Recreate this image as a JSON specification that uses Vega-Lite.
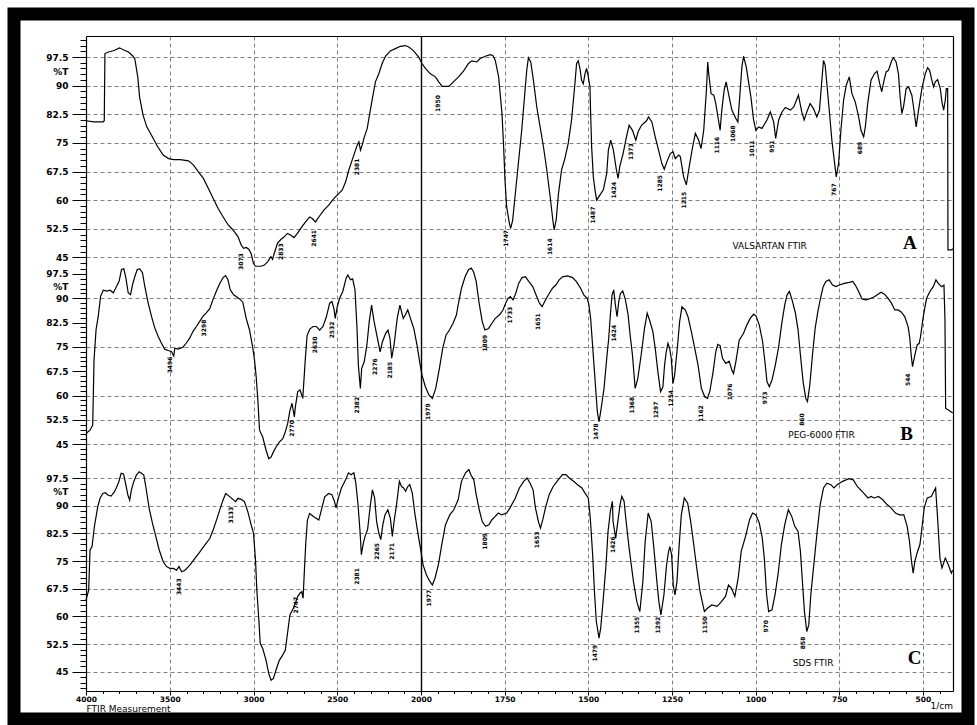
{
  "$schema": "https://vega.github.io/schema/vega-lite/v6.json",
  "width": 954,
  "height": 705,
  "autosize": {"type": "none"},
  "padding": {"left": 14, "top": 14, "right": 9, "bottom": 6},
  "background": "white",
  "view": {"fill": "white", "stroke": "black", "strokeWidth": 13},
  "config": {
    "axis": {
      "domainColor": "black",
      "domainWidth": 1.2,
      "tickColor": "black",
      "labelColor": "black",
      "labelFont": "DejaVu Sans",
      "labelFontWeight": "bold",
      "titleFont": "DejaVu Sans",
      "titleColor": "black",
      "gridColor": "#808080",
      "gridDash": [4, 3],
      "gridWidth": 1
    }
  },
  "datasets": {
    "valsartan": [
      {"w":4000,"t":80.8},{"w":3952,"t":80.5},{"w":3898,"t":80.5},{"w":3891,"t":80.8},{"w":3887,"t":98.4},{"w":3865,"t":98.8},{"w":3833,"t":99.2},{"w":3800,"t":99.9},{"w":3778,"t":99.4},{"w":3746,"t":98.8},{"w":3724,"t":97.9},{"w":3709,"t":97.1},{"w":3691,"t":92.3},{"w":3680,"t":87.0},{"w":3659,"t":82.2},{"w":3637,"t":79.2},{"w":3604,"t":76.6},{"w":3572,"t":74.0},{"w":3539,"t":71.8},{"w":3507,"t":70.9},{"w":3476,"t":70.6},{"w":3437,"t":70.6},{"w":3388,"t":70.3},{"w":3358,"t":69.2},{"w":3329,"t":67.4},{"w":3299,"t":65.7},{"w":3270,"t":63.1},{"w":3240,"t":60.4},{"w":3211,"t":57.8},{"w":3181,"t":55.6},{"w":3151,"t":53.5},{"w":3122,"t":52.2},{"w":3092,"t":50.4},{"w":3073,"t":48.2},{"w":3059,"t":47.4},{"w":3043,"t":47.6},{"w":3027,"t":47.1},{"w":3014,"t":46.0},{"w":3000,"t":43.4},{"w":2988,"t":42.7},{"w":2955,"t":42.7},{"w":2935,"t":43.0},{"w":2915,"t":43.9},{"w":2896,"t":45.2},{"w":2886,"t":44.5},{"w":2876,"t":46.1},{"w":2857,"t":48.7},{"w":2837,"t":49.7},{"w":2817,"t":50.4},{"w":2797,"t":51.3},{"w":2777,"t":50.8},{"w":2758,"t":50.2},{"w":2738,"t":51.3},{"w":2718,"t":52.6},{"w":2689,"t":54.3},{"w":2665,"t":55.6},{"w":2649,"t":55.2},{"w":2630,"t":54.3},{"w":2610,"t":55.6},{"w":2580,"t":57.4},{"w":2551,"t":58.7},{"w":2521,"t":60.4},
      {"w":2490,"t":61.8},{"w":2470,"t":62.7},{"w":2450,"t":64.8},{"w":2431,"t":67.9},{"w":2411,"t":70.5},{"w":2391,"t":73.1},{"w":2381,"t":74.4},{"w":2371,"t":75.3},{"w":2361,"t":73.1},{"w":2351,"t":74.4},{"w":2341,"t":76.2},{"w":2321,"t":78.8},{"w":2311,"t":81.4},{"w":2292,"t":86.2},{"w":2272,"t":91.0},{"w":2252,"t":93.1},{"w":2232,"t":95.8},{"w":2212,"t":97.7},{"w":2183,"t":99.1},{"w":2153,"t":99.7},{"w":2123,"t":100.3},{"w":2093,"t":100.5},{"w":2073,"t":100.1},{"w":2044,"t":99.1},{"w":2014,"t":97.5},{"w":1997,"t":95.8},{"w":1987,"t":94.5},{"w":1972,"t":93.1},{"w":1957,"t":92.3},{"w":1947,"t":91.0},{"w":1937,"t":89.8},{"w":1917,"t":89.8},{"w":1903,"t":91.0},{"w":1888,"t":92.3},{"w":1873,"t":93.8},{"w":1858,"t":95.8},{"w":1848,"t":96.5},{"w":1833,"t":96.2},{"w":1823,"t":97.1},{"w":1808,"t":97.7},{"w":1793,"t":98.1},{"w":1785,"t":97.9},{"w":1778,"t":96.6},{"w":1768,"t":92.3},{"w":1758,"t":82.7},{"w":1753,"t":74.0},{"w":1749,"t":65.3},{"w":1744,"t":58.3},{"w":1736,"t":54.0},{"w":1732,"t":52.6},{"w":1726,"t":54.8},{"w":1719,"t":60.9},{"w":1709,"t":69.6},{"w":1699,"t":78.3},{"w":1689,"t":88.8},{"w":1684,"t":94.0},{"w":1679,"t":97.3},{"w":1672,"t":96.2},{"w":1664,"t":91.4},{"w":1654,"t":84.4},{"w":1644,"t":79.2},{"w":1634,"t":74.0},{"w":1624,"t":67.9},{"w":1614,"t":60.9},{"w":1606,"t":54.8},{"w":1602,"t":52.2},{"w":1596,"t":54.8},{"w":1589,"t":61.8},{"w":1580,"t":67.9},{"w":1570,"t":70.9},{"w":1560,"t":74.9},{"w":1550,"t":81.0},{"w":1540,"t":90.5},{"w":1535,"t":95.8},{"w":1530,"t":96.5},{"w":1525,"t":94.5},{"w":1520,"t":91.4},{"w":1515,"t":90.5},{"w":1510,"t":93.1},{"w":1505,"t":94.5},{"w":1500,"t":92.3},{"w":1495,"t":89.7},{"w":1493,"t":82.7},{"w":1490,"t":74.0},{"w":1485,"t":66.1},{"w":1480,"t":62.7},{"w":1475,"t":60.0},{"w":1465,"t":61.4},{"w":1455,"t":62.7},{"w":1445,"t":67.0},{"w":1440,"t":73.1},{"w":1433,"t":75.7},{"w":1425,"t":73.1},{"w":1416,"t":67.9},{"w":1411,"t":65.7},{"w":1406,"t":68.8},{"w":1396,"t":72.2},{"w":1386,"t":76.6},{"w":1378,"t":79.6},{"w":1368,"t":78.3},{"w":1358,"t":75.7},{"w":1351,"t":77.9},{"w":1341,"t":79.6},{"w":1326,"t":80.8},
      {"w":1320,"t":81.8},{"w":1310,"t":80.5},{"w":1300,"t":76.6},{"w":1290,"t":73.1},{"w":1280,"t":69.6},{"w":1273,"t":68.1},{"w":1265,"t":70.1},{"w":1255,"t":72.2},{"w":1247,"t":72.7},{"w":1240,"t":70.9},{"w":1230,"t":71.8},{"w":1225,"t":71.4},{"w":1215,"t":66.1},{"w":1207,"t":64.0},{"w":1200,"t":67.9},{"w":1190,"t":73.1},{"w":1180,"t":77.5},{"w":1170,"t":75.7},{"w":1163,"t":73.5},{"w":1155,"t":78.3},{"w":1147,"t":88.8},{"w":1143,"t":96.2},{"w":1140,"t":93.1},{"w":1133,"t":87.9},{"w":1125,"t":87.5},{"w":1119,"t":85.3},{"w":1111,"t":81.0},{"w":1106,"t":78.3},{"w":1101,"t":83.6},{"w":1094,"t":88.8},{"w":1088,"t":91.0},{"w":1081,"t":87.9},{"w":1071,"t":83.6},{"w":1059,"t":81.4},{"w":1053,"t":80.5},{"w":1046,"t":88.8},{"w":1041,"t":94.9},{"w":1036,"t":97.7},{"w":1028,"t":94.9},{"w":1021,"t":91.0},{"w":1014,"t":87.0},{"w":1006,"t":81.0},{"w":999,"t":78.3},{"w":991,"t":79.2},{"w":981,"t":78.8},{"w":966,"t":81.0},{"w":956,"t":83.1},{"w":946,"t":80.5},{"w":940,"t":76.2},{"w":931,"t":81.0},{"w":921,"t":83.1},{"w":911,"t":84.3},{"w":896,"t":83.6},{"w":886,"t":84.4},{"w":872,"t":87.5},{"w":862,"t":83.1},{"w":855,"t":81.0},{"w":847,"t":83.1},{"w":837,"t":85.3},{"w":827,"t":84.0},{"w":817,"t":81.8},{"w":809,"t":83.6},{"w":802,"t":91.4},{"w":797,"t":96.6},{"w":792,"t":95.3},{"w":787,"t":90.5},{"w":779,"t":82.7},{"w":772,"t":75.7},{"w":765,"t":70.5},{"w":759,"t":66.1},{"w":752,"t":69.6},{"w":745,"t":78.3},{"w":737,"t":86.2},{"w":729,"t":90.1},{"w":720,"t":92.3},{"w":712,"t":87.9},{"w":702,"t":85.7},{"w":692,"t":81.8},{"w":685,"t":78.3},{"w":677,"t":76.6},{"w":672,"t":79.2},{"w":665,"t":85.3},{"w":655,"t":91.4},{"w":645,"t":93.1},{"w":637,"t":93.8},{"w":629,"t":90.5},{"w":623,"t":88.4},{"w":616,"t":91.4},{"w":610,"t":93.6},{"w":603,"t":94.0},{"w":593,"t":96.6},{"w":588,"t":97.3},{"w":580,"t":96.2},{"w":573,"t":93.1},{"w":568,"t":87.0},{"w":563,"t":82.7},{"w":558,"t":84.4},{"w":550,"t":89.2},{"w":543,"t":89.7},{"w":533,"t":87.5},{"w":528,"t":84.4},{"w":520,"t":79.2},{"w":513,"t":83.6},{"w":503,"t":89.2},{"w":493,"t":93.1},{"w":486,"t":94.7},{"w":480,"t":94.0},{"w":473,"t":91.4},{"w":468,"t":89.7},{"w":463,"t":91.0},{"w":456,"t":91.6},{"w":448,"t":89.2},{"w":443,"t":85.7},{"w":438,"t":83.6},{"w":433,"t":86.2},{"w":430,"t":89.2},{"w":426,"t":89.2},{"w":425,"t":47.0},{"w":413,"t":47.0},{"w":411,"t":47.3}
    ],
    "valsartanPeaks": [
      {"w":3073,"t":46.1},{"w":2833,"t":48.7},{"w":2641,"t":52.2},{"w":2381,"t":70.9},{"w":1950,"t":87.5},{"w":1747,"t":52.2},{"w":1614,"t":50.0},{"w":1487,"t":58.3},{"w":1424,"t":64.8},{"w":1373,"t":74.9},{"w":1285,"t":66.6},{"w":1215,"t":62.2},{"w":1116,"t":76.6},{"w":1068,"t":79.6},{"w":1011,"t":75.7},{"w":951,"t":75.7},{"w":767,"t":64.4},{"w":689,"t":75.3}
    ],
    "peg": [
      {"w":4000,"t":48.3},{"w":3976,"t":49.3},{"w":3960,"t":50.9},{"w":3952,"t":71.0},{"w":3940,"t":80.3},{"w":3927,"t":84.4},{"w":3913,"t":90.6},{"w":3897,"t":92.5},{"w":3877,"t":92.2},{"w":3857,"t":92.5},{"w":3837,"t":91.7},{"w":3817,"t":93.7},{"w":3802,"t":95.3},{"w":3788,"t":98.9},{"w":3774,"t":99.1},{"w":3762,"t":96.3},{"w":3748,"t":91.7},{"w":3734,"t":91.1},{"w":3722,"t":94.2},{"w":3708,"t":96.8},{"w":3694,"t":98.9},{"w":3679,"t":99.1},{"w":3663,"t":97.9},{"w":3649,"t":93.7},{"w":3629,"t":88.6},{"w":3609,"t":84.4},{"w":3589,"t":80.8},{"w":3569,"t":78.2},{"w":3550,"t":76.2},{"w":3530,"t":74.3},{"w":3510,"t":73.9},{"w":3490,"t":73.6},{"w":3476,"t":72.2},{"w":3470,"t":74.6},{"w":3450,"t":74.3},{"w":3421,"t":74.9},{"w":3401,"t":76.2},{"w":3381,"t":77.7},{"w":3361,"t":79.8},{"w":3341,"t":81.3},{"w":3321,"t":82.9},{"w":3302,"t":84.4},{"w":3282,"t":85.5},{"w":3262,"t":86.7},{"w":3242,"t":89.6},{"w":3222,"t":92.2},{"w":3202,"t":94.5},{"w":3183,"t":96.3},{"w":3167,"t":97.0},{"w":3153,"t":95.8},{"w":3139,"t":92.7},{"w":3119,"t":91.1},{"w":3099,"t":90.4},{"w":3083,"t":89.8},{"w":3064,"t":88.8},{"w":3044,"t":83.9},{"w":3024,"t":80.3},{"w":3004,"t":74.6},{"w":2994,"t":71.0},{"w":2984,"t":65.8},{"w":2974,"t":58.6},{"w":2964,"t":49.3},{"w":2945,"t":47.2},{"w":2925,"t":43.1},{"w":2909,"t":40.5},{"w":2895,"t":41.0},{"w":2881,"t":42.6},{"w":2865,"t":44.1},{"w":2845,"t":45.7},{"w":2825,"t":46.7},{"w":2810,"t":48.8},{"w":2796,"t":51.4},{"w":2782,"t":55.5},{"w":2770,"t":57.6},{"w":2756,"t":53.4},{"w":2750,"t":56.5},{"w":2736,"t":61.2},{"w":2722,"t":61.7},{"w":2706,"t":59.1},{"w":2702,"t":62.2},{"w":2691,"t":71.0},{"w":2680,"t":78.5},{"w":2664,"t":80.5},{"w":2644,"t":81.3},{"w":2624,"t":81.3},{"w":2605,"t":80.2},{"w":2585,"t":81.3},{"w":2565,"t":84.3},{"w":2545,"t":88.5},{"w":2532,"t":89.0},{"w":2520,"t":86.9},{"w":2512,"t":83.8},{"w":2500,"t":87.4},{"w":2486,"t":90.0},{"w":2467,"t":92.1},{"w":2447,"t":96.2},{"w":2437,"t":97.2},{"w":2421,"t":95.7},{"w":2408,"t":96.0},{"w":2394,"t":92.6},{"w":2382,"t":80.7},{"w":2374,"t":69.4},{"w":2362,"t":62.2},{"w":2354,"t":68.4},{"w":2339,"t":70.4},{"w":2323,"t":75.6},{"w":2309,"t":82.8},{"w":2295,"t":87.9},{"w":2280,"t":82.8},{"w":2260,"t":77.6},{"w":2244,"t":73.5},{"w":2230,"t":76.6},{"w":2211,"t":79.2},{"w":2197,"t":80.2},{"w":2185,"t":77.6},{"w":2175,"t":71.5},{"w":2161,"t":75.6},{"w":2142,"t":83.8},{"w":2126,"t":87.9},{"w":2106,"t":83.8},{"w":2093,"t":84.9},{"w":2079,"t":86.4},{"w":2063,"t":83.8},{"w":2043,"t":80.7},{"w":2024,"t":75.6},{"w":2008,"t":70.4},{"w":1997,"t":66.3},{"w":1987,"t":62.7},{"w":1976,"t":60.1},{"w":1966,"t":59.1},{"w":1956,"t":62.2},{"w":1945,"t":68.4},{"w":1935,"t":74.6},{"w":1925,"t":78.7},{"w":1915,"t":80.2},{"w":1904,"t":82.3},{"w":1894,"t":84.9},{"w":1889,"t":87.9},{"w":1879,"t":93.1},{"w":1868,"t":96.7},{"w":1858,"t":98.8},{"w":1850,"t":99.3},{"w":1843,"t":98.2},{"w":1835,"t":95.2},{"w":1827,"t":89.0},{"w":1817,"t":82.8},{"w":1809,"t":80.2},{"w":1798,"t":80.7},{"w":1788,"t":82.3},{"w":1778,"t":83.8},{"w":1765,"t":84.9},{"w":1755,"t":86.4},{"w":1747,"t":88.5},{"w":1740,"t":90.0},{"w":1733,"t":90.5},{"w":1725,"t":89.5},{"w":1717,"t":91.5},{"w":1708,"t":94.6},{"w":1698,"t":96.4},{"w":1688,"t":96.7},{"w":1678,"t":95.2},{"w":1666,"t":93.6},{"w":1656,"t":91.0},{"w":1646,"t":88.5},{"w":1638,"t":87.4},{"w":1628,"t":89.5},{"w":1617,"t":91.5},{"w":1607,"t":93.1},{"w":1597,"t":94.1},{"w":1587,"t":95.7},{"w":1577,"t":96.6},{"w":1562,"t":96.9},{"w":1547,"t":96.4},{"w":1536,"t":95.2},{"w":1523,"t":93.1},{"w":1513,"t":91.0},{"w":1503,"t":90.0},{"w":1498,"t":87.9},{"w":1493,"t":83.8},{"w":1488,"t":76.6},{"w":1483,"t":69.4},{"w":1478,"t":62.2},{"w":1473,"t":55.0},{"w":1468,"t":51.9},{"w":1463,"t":55.0},{"w":1453,"t":62.2},{"w":1444,"t":72.5},{"w":1439,"t":77.6},{"w":1434,"t":84.9},{"w":1429,"t":91.0},{"w":1424,"t":92.6},{"w":1419,"t":87.9},{"w":1414,"t":84.3},{"w":1409,"t":89.0},{"w":1404,"t":91.5},{"w":1397,"t":92.3},{"w":1389,"t":89.5},{"w":1381,"t":84.9},{"w":1375,"t":78.7},{"w":1368,"t":72.5},{"w":1360,"t":62.2},
      {"w":1352,"t":65.3},{"w":1342,"t":72.5},{"w":1332,"t":80.7},{"w":1324,"t":85.4},{"w":1317,"t":83.3},{"w":1307,"t":79.7},{"w":1300,"t":74.6},{"w":1292,"t":67.3},{"w":1284,"t":61.2},{"w":1277,"t":62.7},{"w":1272,"t":69.4},{"w":1267,"t":73.5},{"w":1262,"t":76.1},{"w":1257,"t":74.6},{"w":1252,"t":71.5},{"w":1247,"t":63.7},{"w":1242,"t":66.3},{"w":1234,"t":74.6},{"w":1227,"t":82.8},{"w":1220,"t":87.4},{"w":1210,"t":86.4},{"w":1202,"t":84.3},{"w":1192,"t":79.7},{"w":1182,"t":74.6},{"w":1172,"t":69.4},{"w":1162,"t":62.2},{"w":1152,"t":59.6},{"w":1144,"t":59.1},{"w":1137,"t":61.2},{"w":1127,"t":67.3},{"w":1119,"t":73.5},{"w":1113,"t":75.8},{"w":1106,"t":75.4},{"w":1099,"t":71.5},{"w":1089,"t":69.9},{"w":1079,"t":70.6},{"w":1071,"t":67.9},{"w":1066,"t":66.8},{"w":1059,"t":70.4},{"w":1049,"t":77.1},{"w":1036,"t":79.2},{"w":1026,"t":81.8},{"w":1016,"t":83.8},{"w":1006,"t":85.1},{"w":999,"t":84.6},{"w":989,"t":81.8},{"w":979,"t":76.6},{"w":971,"t":69.4},{"w":966,"t":64.3},{"w":959,"t":62.7},{"w":951,"t":64.8},{"w":941,"t":69.4},{"w":931,"t":75.1},{"w":921,"t":82.8},{"w":913,"t":87.9},{"w":906,"t":91.0},{"w":899,"t":92.1},{"w":891,"t":89.5},{"w":881,"t":85.4},{"w":873,"t":80.2},{"w":866,"t":72.5},{"w":858,"t":64.3},{"w":850,"t":59.1},{"w":845,"t":58.1},{"w":838,"t":63.2},{"w":830,"t":72.5},{"w":822,"t":80.7},{"w":814,"t":85.9},{"w":805,"t":90.5},{"w":798,"t":93.6},{"w":790,"t":95.2},{"w":780,"t":95.7},{"w":770,"t":94.1},{"w":760,"t":93.6},{"w":750,"t":94.1},{"w":735,"t":94.6},{"w":720,"t":94.9},{"w":710,"t":95.2},{"w":702,"t":94.1},{"w":692,"t":92.1},{"w":682,"t":89.8},{"w":670,"t":89.5},{"w":655,"t":90.0},{"w":645,"t":90.5},{"w":635,"t":91.2},{"w":625,"t":91.9},{"w":614,"t":91.2},{"w":604,"t":90.0},{"w":594,"t":88.5},{"w":584,"t":86.4},{"w":574,"t":86.4},{"w":564,"t":85.7},{"w":554,"t":84.3},{"w":544,"t":81.2},{"w":539,"t":77.6},{"w":535,"t":72.5},{"w":531,"t":68.9},{"w":524,"t":72.5},{"w":517,"t":75.6},{"w":511,"t":76.1},{"w":507,"t":78.2},{"w":499,"t":84.3},{"w":489,"t":90.0},{"w":479,"t":92.1},{"w":469,"t":93.6},{"w":461,"t":95.7},{"w":454,"t":94.6},{"w":444,"t":93.6},{"w":437,"t":94.1},{"w":434,"t":83.3},{"w":432,"t":56.0},{"w":424,"t":55.5},{"w":414,"t":54.8},{"w":411,"t":54.6}
    ],
    "pegPeaks": [
      {"w":3496,"t":72.0},{"w":3298,"t":83.4},{"w":2770,"t":52.4},{"w":2630,"t":78.2},{"w":2532,"t":82.8},{"w":2382,"t":59.6},{"w":2276,"t":71.5},{"w":2185,"t":70.4},{"w":1979,"t":57.6},{"w":1809,"t":78.7},{"w":1733,"t":87.4},{"w":1651,"t":85.4},{"w":1478,"t":51.4},{"w":1424,"t":81.8},{"w":1368,"t":59.6},{"w":1297,"t":58.1},{"w":1254,"t":61.7},{"w":1162,"t":57.0},{"w":1076,"t":63.7},{"w":973,"t":61.2},{"w":860,"t":54.5},{"w":544,"t":66.8}
    ],
    "sds": [
      {"w":4000,"t":64.4},{"w":3984,"t":67.1},{"w":3976,"t":78.0},{"w":3964,"t":78.9},{"w":3950,"t":84.3},{"w":3930,"t":89.7},{"w":3916,"t":92.0},{"w":3900,"t":93.3},{"w":3884,"t":93.5},{"w":3870,"t":92.9},{"w":3850,"t":92.6},{"w":3830,"t":93.8},{"w":3816,"t":95.1},{"w":3804,"t":96.5},{"w":3790,"t":98.8},{"w":3776,"t":98.6},{"w":3764,"t":96.1},{"w":3750,"t":92.9},{"w":3739,"t":91.5},{"w":3729,"t":94.2},{"w":3715,"t":96.5},{"w":3699,"t":98.3},{"w":3683,"t":99.2},{"w":3669,"t":98.8},{"w":3655,"t":98.3},{"w":3643,"t":95.2},{"w":3623,"t":89.3},{"w":3603,"t":85.2},{"w":3583,"t":81.6},{"w":3563,"t":78.0},{"w":3539,"t":74.8},{"w":3519,"t":73.5},{"w":3498,"t":73.0},{"w":3478,"t":73.0},{"w":3459,"t":72.5},{"w":3445,"t":73.5},{"w":3429,"t":72.1},{"w":3409,"t":72.5},{"w":3380,"t":73.9},{"w":3350,"t":75.7},{"w":3320,"t":77.5},{"w":3291,"t":79.3},{"w":3261,"t":81.1},{"w":3241,"t":83.4},{"w":3221,"t":86.1},{"w":3202,"t":88.8},{"w":3182,"t":91.5},{"w":3166,"t":93.3},{"w":3146,"t":92.6},{"w":3123,"t":91.7},{"w":3107,"t":91.1},{"w":3093,"t":92.0},{"w":3073,"t":91.7},{"w":3054,"t":91.1},{"w":3034,"t":88.4},{"w":3014,"t":84.8},{"w":3000,"t":82.5},{"w":2988,"t":75.3},{"w":2980,"t":67.1},{"w":2968,"t":59.0},{"w":2960,"t":52.7},{"w":2945,"t":51.3},{"w":2925,"t":48.1},{"w":2909,"t":44.5},{"w":2895,"t":42.7},{"w":2881,"t":43.2},{"w":2866,"t":45.4},{"w":2846,"t":48.1},{"w":2826,"t":49.5},{"w":2810,"t":50.9},{"w":2797,"t":55.4},{"w":2783,"t":60.3},{"w":2767,"t":61.7},{"w":2751,"t":63.5},{"w":2737,"t":65.3},{"w":2724,"t":66.2},{"w":2712,"t":66.7},{"w":2704,"t":64.9},{"w":2698,"t":70.7},{"w":2688,"t":79.8},{"w":2678,"t":86.1},{"w":2665,"t":87.9},{"w":2640,"t":87.0},{"w":2610,"t":86.1},{"w":2590,"t":89.7},{"w":2575,"t":92.4},{"w":2551,"t":93.3},
      {"w":2532,"t":93.0},{"w":2517,"t":91.2},{"w":2507,"t":89.4},{"w":2493,"t":92.1},{"w":2475,"t":94.8},{"w":2450,"t":97.0},{"w":2433,"t":98.9},{"w":2418,"t":98.4},{"w":2401,"t":98.9},{"w":2389,"t":96.1},{"w":2376,"t":90.3},{"w":2364,"t":83.0},{"w":2356,"t":76.7},{"w":2344,"t":79.9},{"w":2334,"t":81.7},{"w":2319,"t":83.5},{"w":2302,"t":90.3},{"w":2290,"t":94.3},{"w":2277,"t":92.1},{"w":2265,"t":85.7},{"w":2252,"t":82.6},{"w":2240,"t":80.8},{"w":2228,"t":84.8},{"w":2215,"t":87.5},{"w":2198,"t":88.9},{"w":2183,"t":86.6},{"w":2171,"t":81.7},{"w":2161,"t":85.7},{"w":2146,"t":90.3},{"w":2129,"t":96.6},{"w":2116,"t":95.2},{"w":2104,"t":94.8},{"w":2092,"t":93.9},{"w":2079,"t":95.2},{"w":2067,"t":95.7},{"w":2052,"t":93.4},{"w":2037,"t":88.0},{"w":2017,"t":82.1},{"w":2000,"t":77.6},{"w":1994,"t":74.0},{"w":1984,"t":71.3},{"w":1973,"t":69.4},{"w":1966,"t":68.5},{"w":1958,"t":70.4},{"w":1948,"t":74.0},{"w":1938,"t":79.4},{"w":1927,"t":84.8},{"w":1914,"t":87.5},{"w":1902,"t":88.9},{"w":1889,"t":91.6},{"w":1879,"t":96.6},{"w":1867,"t":98.9},{"w":1857,"t":99.8},{"w":1851,"t":98.4},{"w":1842,"t":97.0},{"w":1835,"t":93.0},{"w":1826,"t":88.9},{"w":1817,"t":85.7},{"w":1807,"t":84.4},{"w":1797,"t":84.8},{"w":1788,"t":86.2},{"w":1778,"t":87.1},{"w":1769,"t":88.0},{"w":1759,"t":87.5},{"w":1744,"t":88.0},{"w":1734,"t":89.4},{"w":1718,"t":92.1},{"w":1706,"t":94.8},{"w":1693,"t":96.6},{"w":1683,"t":97.5},{"w":1674,"t":96.1},{"w":1665,"t":94.3},{"w":1658,"t":89.4},{"w":1649,"t":85.7},{"w":1643,"t":83.9},{"w":1636,"t":86.2},{"w":1628,"t":89.4},{"w":1617,"t":93.0},{"w":1605,"t":95.2},{"w":1590,"t":97.0},{"w":1577,"t":98.4},{"w":1567,"t":98.4},{"w":1557,"t":97.5},{"w":1544,"t":96.6},{"w":1532,"t":95.7},{"w":1519,"t":94.8},{"w":1510,"t":93.4},{"w":1500,"t":92.1},{"w":1494,"t":86.6},{"w":1487,"t":76.7},{"w":1481,"t":65.8},{"w":1476,"t":58.6},{"w":1468,"t":54.1},{"w":1463,"t":56.8},{"w":1456,"t":64.0},{"w":1447,"t":74.0},{"w":1441,"t":83.0},{"w":1434,"t":88.5},{"w":1428,"t":91.2},{"w":1426,"t":85.7},{"w":1418,"t":81.2},{"w":1413,"t":84.8},{"w":1405,"t":90.3},{"w":1400,"t":92.5},{"w":1393,"t":91.2},{"w":1388,"t":86.6},{"w":1378,"t":78.5},{"w":1365,"t":69.4},{"w":1355,"t":64.0},{"w":1346,"t":61.3},{"w":1337,"t":69.4},{"w":1330,"t":80.3},{"w":1321,"t":88.0},{"w":1312,"t":85.7},{"w":1304,"t":78.5},{"w":1295,"t":69.4},{"w":1289,"t":64.0},{"w":1283,"t":60.4},{"w":1274,"t":65.8},{"w":1266,"t":74.0},{"w":1260,"t":77.6},{"w":1256,"t":78.9},{"w":1251,"t":76.7},{"w":1246,"t":68.5},{"w":1241,"t":65.8},{"w":1235,"t":69.4},{"w":1229,"t":78.5},{"w":1222,"t":87.5},{"w":1213,"t":92.1},{"w":1203,"t":90.7},{"w":1194,"t":85.7},{"w":1186,"t":80.3},{"w":1176,"t":73.1},{"w":1166,"t":66.7},{"w":1153,"t":61.3},{"w":1144,"t":62.2},{"w":1131,"t":63.1},{"w":1115,"t":62.7},{"w":1102,"t":64.0},{"w":1090,"t":65.4},{"w":1081,"t":68.5},{"w":1072,"t":67.6},{"w":1062,"t":65.4},{"w":1052,"t":70.4},{"w":1043,"t":77.6},{"w":1030,"t":81.7},{"w":1018,"t":86.2},{"w":1009,"t":88.0},{"w":999,"t":87.5},{"w":989,"t":85.3},{"w":980,"t":81.2},{"w":974,"t":75.8},{"w":967,"t":65.8},{"w":961,"t":61.3},{"w":951,"t":61.8},{"w":942,"t":65.8},{"w":933,"t":71.3},{"w":923,"t":79.4},{"w":913,"t":84.8},{"w":902,"t":88.9},{"w":892,"t":87.1},{"w":883,"t":84.4},{"w":873,"t":83.0},{"w":866,"t":77.6},{"w":860,"t":69.4},{"w":854,"t":61.3},{"w":847,"t":55.9},{"w":841,"t":57.7},{"w":835,"t":65.8},{"w":825,"t":74.9},{"w":816,"t":83.0},{"w":807,"t":90.3},{"w":797,"t":94.8},{"w":787,"t":96.1},{"w":775,"t":95.7},{"w":766,"t":94.8},{"w":756,"t":95.7},{"w":740,"t":96.6},{"w":721,"t":97.3},{"w":708,"t":97.0},{"w":696,"t":95.2},{"w":677,"t":93.4},{"w":664,"t":92.1},{"w":655,"t":92.5},{"w":645,"t":92.1},{"w":633,"t":92.5},{"w":620,"t":91.6},{"w":607,"t":90.3},{"w":595,"t":89.4},{"w":582,"t":88.0},{"w":570,"t":87.5},{"w":557,"t":87.5},{"w":547,"t":84.4},{"w":540,"t":80.3},{"w":534,"t":74.9},{"w":529,"t":71.7},{"w":524,"t":74.9},{"w":516,"t":77.6},{"w":509,"t":79.4},{"w":504,"t":83.0},{"w":496,"t":89.4},{"w":487,"t":92.1},{"w":475,"t":92.5},{"w":462,"t":94.8},{"w":456,"t":86.6},{"w":449,"t":75.8},{"w":443,"t":73.1},{"w":433,"t":75.8},{"w":424,"t":74.0},{"w":415,"t":71.7},{"w":411,"t":72.5}
    ],
    "sdsPeaks": [
      {"w":3443,"t":70.3},{"w":3133,"t":89.7},{"w":2747,"t":65.3},{"w":2381,"t":73.1},{"w":2265,"t":79.9},{"w":2171,"t":79.9},{"w":1977,"t":67.2},{"w":1809,"t":82.6},{"w":1653,"t":83.0},{"w":1479,"t":52.3},{"w":1426,"t":81.7},{"w":1355,"t":59.9},{"w":1292,"t":59.9},{"w":1150,"t":59.9},{"w":970,"t":59.0},{"w":858,"t":54.5}
    ]
  },
  "layer": [
    {
      "layer": [
        {
          "data": {"name": "valsartan"},
          "mark": {"type": "line", "color": "black", "strokeWidth": 1.2},
          "encoding": {
            "x": {"field": "w", "type": "quantitative", "scale": {"domain": [4000, 2000, 410], "range": [72, 407, 939], "nice": false, "zero": false}, "axis": null},
            "y": {"field": "t", "type": "quantitative", "scale": {"domain": [42.5, 103], "range": [253, 22], "nice": false, "zero": false},
              "axis": {"orient": "left", "offset": -72, "title": null, "values": [45, 52.5, 60, 67.5, 75, 82.5, 90, 93.75, 97.5],
                "labelExpr": "datum.value == 93.75 ? '%T' : format(datum.value, '.1~f')",
                "labelFontSize": 9, "labelPadding": 4, "labelOverlap": false,
                "tickSize": 14, "tickOpacity": {"condition": {"test": "datum.value == 93.75", "value": 0}, "value": 1},
                "grid": true, "gridOpacity": {"condition": {"test": "datum.value == 93.75", "value": 0}, "value": 1}}}
          }
        },
        {
          "data": {"name": "valsartanPeaks"},
          "mark": {"type": "text", "angle": 270, "align": "right", "baseline": "middle", "font": "DejaVu Sans", "fontSize": 6, "fontWeight": "bold", "color": "black"},
          "encoding": {
            "x": {"field": "w", "type": "quantitative", "scale": {"domain": [4000, 2000, 410], "range": [72, 407, 939], "nice": false, "zero": false}, "axis": null},
            "y": {"field": "t", "type": "quantitative", "scale": {"domain": [42.5, 103], "range": [253, 22], "nice": false, "zero": false},
              "axis": {"orient": "left", "offset": -72, "title": null, "labels": false, "domain": false, "grid": false, "tickSize": 6,
                "values": [43.5,45,46.5,48,49.5,51,52.5,54,55.5,57,58.5,60,61.5,63,64.5,66,67.5,69,70.5,72,73.5,75,76.5,78,79.5,81,82.5,84,85.5,87,88.5,90,91.5,93,94.5,96,97.5,99,100.5,102]}},
            "text": {"field": "w", "type": "quantitative", "format": "d"}
          }
        },
        {
          "data": {"values": [{}]},
          "mark": {"type": "text", "align": "center", "baseline": "middle", "font": "DejaVu Sans", "fontSize": 9, "color": "black"},
          "encoding": {
            "x": {"datum": 958, "type": "quantitative", "scale": {"domain": [4000, 2000, 410], "range": [72, 407, 939], "nice": false, "zero": false}, "axis": null},
            "y": {"datum": 48.1, "type": "quantitative", "scale": {"domain": [42.5, 103], "range": [253, 22], "nice": false, "zero": false}, "axis": null},
            "text": {"value": "VALSARTAN FTIR"}
          }
        },
        {
          "data": {"values": [{}]},
          "mark": {"type": "text", "align": "center", "baseline": "middle", "font": "Liberation Serif", "fontSize": 19, "fontWeight": "bold", "color": "black"},
          "encoding": {
            "x": {"datum": 539, "type": "quantitative", "scale": {"domain": [4000, 2000, 410], "range": [72, 407, 939], "nice": false, "zero": false}, "axis": null},
            "y": {"datum": 48.9, "type": "quantitative", "scale": {"domain": [42.5, 103], "range": [253, 22], "nice": false, "zero": false}, "axis": null},
            "text": {"value": "A"}
          }
        }
      ],
      "resolve": {"axis": {"y": "independent"}}
    },
    {
      "layer": [
        {
          "data": {"name": "peg"},
          "mark": {"type": "line", "color": "black", "strokeWidth": 1.2},
          "encoding": {
            "x": {"field": "w", "type": "quantitative", "scale": {"domain": [4000, 2000, 410], "range": [72, 407, 939], "nice": false, "zero": false}, "axis": null},
            "y": {"field": "t", "type": "quantitative", "scale": {"domain": [39.48, 99.66], "range": [448, 253], "nice": false, "zero": false},
              "axis": {"orient": "left", "offset": -72, "title": null, "values": [45, 52.5, 60, 67.5, 75, 82.5, 90, 93.75, 97.5],
                "labelExpr": "datum.value == 93.75 ? '%T' : format(datum.value, '.1~f')",
                "labelFontSize": 9, "labelPadding": 4, "labelOverlap": false,
                "tickSize": 14, "tickOpacity": {"condition": {"test": "datum.value == 93.75", "value": 0}, "value": 1},
                "grid": true, "gridOpacity": {"condition": {"test": "indexof([97.5, 93.75, 82.5, 67.5], datum.value) >= 0", "value": 0}, "value": 1}}}
          }
        },
        {
          "data": {"name": "pegPeaks"},
          "mark": {"type": "text", "angle": 270, "align": "right", "baseline": "middle", "font": "DejaVu Sans", "fontSize": 6, "fontWeight": "bold", "color": "black"},
          "encoding": {
            "x": {"field": "w", "type": "quantitative", "scale": {"domain": [4000, 2000, 410], "range": [72, 407, 939], "nice": false, "zero": false}, "axis": null},
            "y": {"field": "t", "type": "quantitative", "scale": {"domain": [39.48, 99.66], "range": [448, 253], "nice": false, "zero": false},
              "axis": {"orient": "left", "offset": -72, "title": null, "labels": false, "domain": false, "grid": false, "tickSize": 6,
                "values": [40.5,42,43.5,45,46.5,48,49.5,51,52.5,54,55.5,57,58.5,60,61.5,63,64.5,66,67.5,69,70.5,72,73.5,75,76.5,78,79.5,81,82.5,84,85.5,87,88.5,90,91.5,93,94.5,96,97.5,99]}},
            "text": {"field": "w", "type": "quantitative", "format": "d"}
          }
        },
        {
          "data": {"values": [{}]},
          "mark": {"type": "text", "align": "center", "baseline": "middle", "font": "DejaVu Sans", "fontSize": 9, "color": "black"},
          "encoding": {
            "x": {"datum": 803, "type": "quantitative", "scale": {"domain": [4000, 2000, 410], "range": [72, 407, 939], "nice": false, "zero": false}, "axis": null},
            "y": {"datum": 47.8, "type": "quantitative", "scale": {"domain": [39.48, 99.66], "range": [448, 253], "nice": false, "zero": false}, "axis": null},
            "text": {"value": "PEG-6000 FTIR"}
          }
        },
        {
          "data": {"values": [{}]},
          "mark": {"type": "text", "align": "center", "baseline": "middle", "font": "Liberation Serif", "fontSize": 19, "fontWeight": "bold", "color": "black"},
          "encoding": {
            "x": {"datum": 549, "type": "quantitative", "scale": {"domain": [4000, 2000, 410], "range": [72, 407, 939], "nice": false, "zero": false}, "axis": null},
            "y": {"datum": 48.1, "type": "quantitative", "scale": {"domain": [39.48, 99.66], "range": [448, 253], "nice": false, "zero": false}, "axis": null},
            "text": {"value": "B"}
          }
        }
      ],
      "resolve": {"axis": {"y": "independent"}}
    },
    {
      "layer": [
        {
          "data": {"name": "sds"},
          "mark": {"type": "line", "color": "black", "strokeWidth": 1.2},
          "encoding": {
            "x": {"field": "w", "type": "quantitative", "scale": {"domain": [4000, 2000, 410], "range": [72, 407, 939], "nice": false, "zero": false},
              "axis": {"orient": "bottom", "offset": -28, "values": [4000, 3500, 3000, 2500, 2000, 1750, 1500, 1250, 1000, 750, 500], "format": "d",
                "labelFlush": false, "labelOverlap": false, "labelFontSize": 7.5, "labelPadding": 0, "tickSize": 4, "grid": false,
                "title": "FTIR Measurement", "titleAnchor": "start", "titleAlign": "left", "titleBaseline": "middle", "titleY": 17, "titleFontSize": 9, "titleFontWeight": "normal"}},
            "y": {"field": "t", "type": "quantitative", "scale": {"domain": [39.78, 101.84], "range": [677, 448], "nice": false, "zero": false},
              "axis": {"orient": "left", "offset": -72, "title": null, "values": [45, 52.5, 60, 67.5, 75, 82.5, 90, 93.75, 97.5],
                "labelExpr": "datum.value == 93.75 ? '%T' : format(datum.value, '.1~f')",
                "labelFontSize": 9, "labelPadding": 4, "labelOverlap": false,
                "tickSize": 14, "tickOpacity": {"condition": {"test": "datum.value == 93.75", "value": 0}, "value": 1},
                "grid": true, "gridOpacity": {"condition": {"test": "datum.value == 93.75", "value": 0}, "value": 1}}}
          }
        },
        {
          "data": {"name": "sdsPeaks"},
          "mark": {"type": "text", "angle": 270, "align": "right", "baseline": "middle", "font": "DejaVu Sans", "fontSize": 6, "fontWeight": "bold", "color": "black"},
          "encoding": {
            "x": {"field": "w", "type": "quantitative", "scale": {"domain": [4000, 2000, 410], "range": [72, 407, 939], "nice": false, "zero": false},
              "axis": {"orient": "bottom", "offset": -28, "title": null, "labels": false, "domain": false, "grid": false, "tickSize": 2.5,
                "values": [3900,3800,3700,3600,3400,3300,3200,3100,2900,2800,2700,2600,2400,2300,2200,2100,1950,1900,1850,1800,1700,1650,1600,1550,1450,1400,1350,1300,1200,1150,1100,1050,950,900,850,800,700,650,600,550,450]}},
            "y": {"field": "t", "type": "quantitative", "scale": {"domain": [39.78, 101.84], "range": [677, 448], "nice": false, "zero": false},
              "axis": {"orient": "left", "offset": -72, "title": null, "labels": false, "domain": false, "grid": false, "tickSize": 6,
                "values": [40.5,42,43.5,45,46.5,48,49.5,51,52.5,54,55.5,57,58.5,60,61.5,63,64.5,66,67.5,69,70.5,72,73.5,75,76.5,78,79.5,81,82.5,84,85.5,87,88.5,90,91.5,93,94.5,96,97.5,99,100.5]}},
            "text": {"field": "w", "type": "quantitative", "format": "d"}
          }
        },
        {
          "data": {"values": [{}]},
          "mark": {"type": "text", "align": "center", "baseline": "middle", "font": "DejaVu Sans", "fontSize": 9, "color": "black"},
          "encoding": {
            "x": {"datum": 828, "type": "quantitative", "scale": {"domain": [4000, 2000, 410], "range": [72, 407, 939], "nice": false, "zero": false}, "axis": null},
            "y": {"datum": 47.3, "type": "quantitative", "scale": {"domain": [39.78, 101.84], "range": [677, 448], "nice": false, "zero": false}, "axis": null},
            "text": {"value": "SDS FTIR"}
          }
        },
        {
          "data": {"values": [{}]},
          "mark": {"type": "text", "align": "center", "baseline": "middle", "font": "Liberation Serif", "fontSize": 19, "fontWeight": "bold", "color": "black"},
          "encoding": {
            "x": {"datum": 525, "type": "quantitative", "scale": {"domain": [4000, 2000, 410], "range": [72, 407, 939], "nice": false, "zero": false}, "axis": null},
            "y": {"datum": 48.6, "type": "quantitative", "scale": {"domain": [39.78, 101.84], "range": [677, 448], "nice": false, "zero": false}, "axis": null},
            "text": {"value": "C"}
          }
        },
        {
          "data": {"values": [{}]},
          "mark": {"type": "text", "align": "right", "baseline": "middle", "font": "DejaVu Sans", "fontSize": 9, "color": "black", "dy": 15},
          "encoding": {
            "x": {"datum": 410, "type": "quantitative", "scale": {"domain": [4000, 2000, 410], "range": [72, 407, 939], "nice": false, "zero": false}, "axis": null},
            "y": {"datum": 39.78, "type": "quantitative", "scale": {"domain": [39.78, 101.84], "range": [677, 448], "nice": false, "zero": false}, "axis": null},
            "text": {"value": "1/cm"}
          }
        }
      ],
      "resolve": {"axis": {"x": "independent", "y": "independent"}}
    },
    {
      "data": {"values": [{}]},
      "mark": {"type": "point", "opacity": 0},
      "encoding": {
        "x": {"datum": 2000, "type": "quantitative", "scale": {"domain": [4000, 2000, 410], "range": [72, 407, 939], "nice": false, "zero": false},
          "axis": {"orient": "top", "offset": -22, "title": null, "labels": false, "ticks": false, "domain": true,
            "values": [3500, 3000, 2500, 2000, 1750, 1500, 1250, 1000, 750, 500],
            "grid": true,
            "gridColor": {"condition": {"test": "datum.value == 2000", "value": "black"}, "value": "#808080"},
            "gridDash": {"condition": {"test": "datum.value == 2000", "value": []}, "value": [4, 3]},
            "gridWidth": {"condition": {"test": "datum.value == 2000", "value": 1.4}, "value": 1}}},
        "y": {"datum": 0.5, "type": "quantitative", "scale": {"domain": [0, 1], "range": [677, 22], "nice": false, "zero": false},
          "axis": {"orient": "right", "offset": -15, "title": null, "labels": false, "ticks": false, "grid": false, "domain": true}}
      }
    }
  ],
  "resolve": {"scale": {"y": "independent"}, "axis": {"x": "independent", "y": "independent"}}
}
